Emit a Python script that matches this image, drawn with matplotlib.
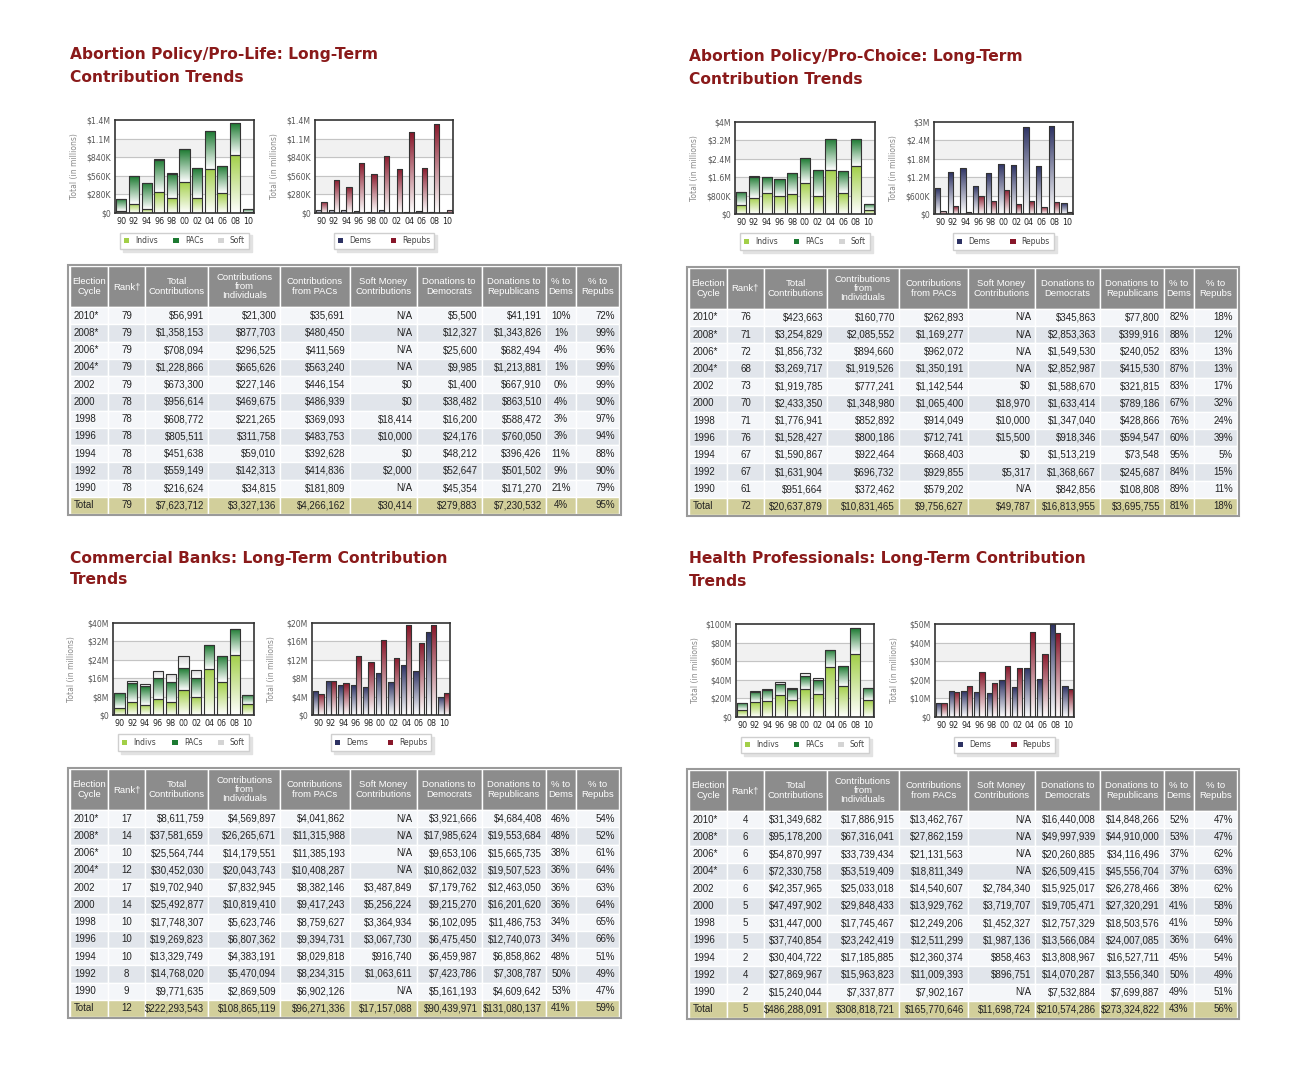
import numpy as np
import matplotlib
matplotlib.use("Agg")
import matplotlib.pyplot as plt
from matplotlib.colors import LinearSegmentedColormap
from matplotlib.patches import Patch, Rectangle

W, H = 1299, 1080

# x labels for the bar charts (oldest cycle first)
years = ["90", "92", "94", "96", "98", "00", "02", "04", "06", "08", "10"]
# table rows (newest cycle first)
cycles = ["2010*", "2008*", "2006*", "2004*", "2002", "2000", "1998", "1996", "1994", "1992", "1990"]
columns = ["Election\nCycle", "Rank\u2020", "Total\nContributions", "Contributions\nfrom\nIndividuals",
           "Contributions\nfrom PACs", "Soft Money\nContributions", "Donations to\nDemocrats",
           "Donations to\nRepublicans", "% to\nDems", "% to\nRepubs"]

# Abortion Policy/Pro-Life
pl_rank = [79, 79, 79, 79, 79, 78, 78, 78, 78, 78, 78]
pl_total = [56991, 1358153, 708094, 1228866, 673300, 956614, 608772, 805511, 451638, 559149, 216624]
pl_indivs = [21300, 877703, 296525, 665626, 227146, 469675, 221265, 311758, 59010, 142313, 34815]
pl_pacs = [35691, 480450, 411569, 563240, 446154, 486939, 369093, 483753, 392628, 414836, 181809]
pl_soft = [None, None, None, None, 0, 0, 18414, 10000, 0, 2000, None]
pl_dems = [5500, 12327, 25600, 9985, 1400, 38482, 16200, 24176, 48212, 52647, 45354]
pl_repubs = [41191, 1343826, 682494, 1213881, 667910, 863510, 588472, 760050, 396426, 501502, 171270]
pl_pct_dems = [10, 1, 4, 1, 0, 4, 3, 3, 11, 9, 21]
pl_pct_repubs = [72, 99, 96, 99, 99, 90, 97, 94, 88, 90, 79]
pl_sum = [79, 7623712, 3327136, 4266162, 30414, 279883, 7230532, 4, 95]

# Abortion Policy/Pro-Choice
pc_rank = [76, 71, 72, 68, 73, 70, 71, 76, 67, 67, 61]
pc_total = [423663, 3254829, 1856732, 3269717, 1919785, 2433350, 1776941, 1528427, 1590867, 1631904, 951664]
pc_indivs = [160770, 2085552, 894660, 1919526, 777241, 1348980, 852892, 800186, 922464, 696732, 372462]
pc_pacs = [262893, 1169277, 962072, 1350191, 1142544, 1065400, 914049, 712741, 668403, 929855, 579202]
pc_soft = [None, None, None, None, 0, 18970, 10000, 15500, 0, 5317, None]
pc_dems = [345863, 2853363, 1549530, 2852987, 1588670, 1633414, 1347040, 918346, 1513219, 1368667, 842856]
pc_repubs = [77800, 399916, 240052, 415530, 321815, 789186, 428866, 594547, 73548, 245687, 108808]
pc_pct_dems = [82, 88, 83, 87, 83, 67, 76, 60, 95, 84, 89]
pc_pct_repubs = [18, 12, 13, 13, 17, 32, 24, 39, 5, 15, 11]
pc_sum = [72, 20637879, 10831465, 9756627, 49787, 16813955, 3695755, 81, 18]

# Commercial Banks
cb_rank = [17, 14, 10, 12, 17, 14, 10, 10, 10, 8, 9]
cb_total = [8611759, 37581659, 25564744, 30452030, 19702940, 25492877, 17748307, 19269823, 13329749, 14768020, 9771635]
cb_indivs = [4569897, 26265671, 14179551, 20043743, 7832945, 10819410, 5623746, 6807362, 4383191, 5470094, 2869509]
cb_pacs = [4041862, 11315988, 11385193, 10408287, 8382146, 9417243, 8759627, 9394731, 8029818, 8234315, 6902126]
cb_soft = [None, None, None, None, 3487849, 5256224, 3364934, 3067730, 916740, 1063611, None]
cb_dems = [3921666, 17985624, 9653106, 10862032, 7179762, 9215270, 6102095, 6475450, 6459987, 7423786, 5161193]
cb_repubs = [4684408, 19553684, 15665735, 19507523, 12463050, 16201620, 11486753, 12740073, 6858862, 7308787, 4609642]
cb_pct_dems = [46, 48, 38, 36, 36, 36, 34, 34, 48, 50, 53]
cb_pct_repubs = [54, 52, 61, 64, 63, 64, 65, 66, 51, 49, 47]
cb_sum = [12, 222293543, 108865119, 96271336, 17157088, 90439971, 131080137, 41, 59]

# Health Professionals
hp_rank = [4, 6, 6, 6, 6, 5, 5, 5, 2, 4, 2]
hp_total = [31349682, 95178200, 54870997, 72330758, 42357965, 47497902, 31447000, 37740854, 30404722, 27869967, 15240044]
hp_indivs = [17886915, 67316041, 33739434, 53519409, 25033018, 29848433, 17745467, 23242419, 17185885, 15963823, 7337877]
hp_pacs = [13462767, 27862159, 21131563, 18811349, 14540607, 13929762, 12249206, 12511299, 12360374, 11009393, 7902167]
hp_soft = [None, None, None, None, 2784340, 3719707, 1452327, 1987136, 858463, 896751, None]
hp_dems = [16440008, 49997939, 20260885, 26509415, 15925017, 19705471, 12757329, 13566084, 13808967, 14070287, 7532884]
hp_repubs = [14848266, 44910000, 34116496, 45556704, 26278466, 27320291, 18503576, 24007085, 16527711, 13556340, 7699887]
hp_pct_dems = [52, 53, 37, 37, 38, 41, 41, 36, 45, 50, 49]
hp_pct_repubs = [47, 47, 62, 63, 62, 58, 59, 64, 54, 49, 51]
hp_sum = [5, 486288091, 308818721, 165770646, 11698724, 210574286, 273324822, 43, 56]

# y axis ticks of each chart
pl_ticks1 = [0, 280e3, 560e3, 840e3, 1.12e6, 1.4e6]
pl_labels1 = ["$0", "$280K", "$560K", "$840K", "$1.1M", "$1.4M"]
pl_ticks2, pl_labels2 = pl_ticks1, pl_labels1
pc_ticks1 = [0, 0.8e6, 1.6e6, 2.4e6, 3.2e6, 4e6]
pc_labels1 = ["$0", "$800K", "$1.6M", "$2.4M", "$3.2M", "$4M"]
pc_ticks2 = [0, 0.6e6, 1.2e6, 1.8e6, 2.4e6, 3e6]
pc_labels2 = ["$0", "$600K", "$1.2M", "$1.8M", "$2.4M", "$3M"]
cb_ticks1 = [0, 8e6, 16e6, 24e6, 32e6, 40e6]
cb_labels1 = ["$0", "$8M", "$16M", "$24M", "$32M", "$40M"]
cb_ticks2 = [0, 4e6, 8e6, 12e6, 16e6, 20e6]
cb_labels2 = ["$0", "$4M", "$8M", "$12M", "$16M", "$20M"]
hp_ticks1 = [0, 20e6, 40e6, 60e6, 80e6, 100e6]
hp_labels1 = ["$0", "$20M", "$40M", "$60M", "$80M", "$100M"]
hp_ticks2 = [0, 10e6, 20e6, 30e6, 40e6, 50e6]
hp_labels2 = ["$0", "$10M", "$20M", "$30M", "$40M", "$50M"]

# colours
c_indivs, c_pacs, c_soft = "#a2cf48", "#1d7a32", "#d4d4d4"
c_dems, c_repubs = "#2d3263", "#88172a"
title_color = "#8a1a1a"

col_px = [38, 37, 63, 72, 69, 67, 65, 64, 30, 43]
col_align = ["left", "center", "right", "right", "right", "right", "right", "right", "center", "right"]


def px_axes(fig, left, top, right, bottom):
    # axes placed in pixel coordinates of the figure
    return fig.add_axes([left / W, 1 - bottom / H, (right - left) / W, (bottom - top) / H])


def gradient_fill(ax, bars, color):
    cmap = LinearSegmentedColormap.from_list("g", ["#ffffff", color])
    grad = np.linspace(0, 1, 64).reshape(-1, 1)
    for bar in bars:
        x0, y0 = bar.get_xy()
        w, h = bar.get_width(), bar.get_height()
        if h <= 0:
            continue
        im = ax.imshow(grad, cmap=cmap, extent=[x0, x0 + w, y0, y0 + h], aspect="auto",
                       origin="lower", zorder=2, interpolation="bilinear")
        im.set_clip_path(bar)


def style_chart(ax, ticks, labels):
    ax.set_xlim(-0.5, 10.5)
    ax.set_ylim(0, ticks[-1])
    for i in range(len(ticks) - 1):
        if i % 2 == 1:
            ax.axhspan(ticks[i], ticks[i + 1], color="#f1f1f1", zorder=0)
    for t in ticks[1:-1]:
        ax.axhline(t, color="#c4c4c4", lw=0.8, zorder=1)
    ax.set_yticks(ticks)
    ax.set_yticklabels(labels, fontsize=5.6, color="#555555")
    ax.set_xticks(range(len(years)))
    ax.set_xticklabels(years, fontsize=5.8, color="#222222")
    ax.tick_params(length=0, pad=3)
    for s in ax.spines.values():
        s.set_color("#333333")
        s.set_linewidth(1.2)
    ax.set_ylabel("Total (in millions)", fontsize=5.5, color="#8a8a8a")
    ax.yaxis.set_label_coords(-0.26, 0.5)


legend_style = dict(fontsize=5.5, frameon=True, fancybox=False, edgecolor="#cfcfcf", framealpha=1,
                    shadow={"color": "#e2e2e2", "alpha": 1}, handlelength=0.7, handleheight=0.7,
                    handletextpad=0.8, borderpad=0.5, labelcolor="#444444")


def stack_chart(ax, indivs, pacs, soft, ticks, labels):
    x = np.arange(len(years))
    ind = np.array(indivs[::-1], dtype=float)
    pac = np.array(pacs[::-1], dtype=float)
    sft = np.array([0 if v is None else v for v in soft[::-1]], dtype=float)
    kw = dict(width=0.8, facecolor="none", edgecolor="#333333", linewidth=0.8, zorder=3)
    b1 = ax.bar(x, ind, **kw)
    b2 = ax.bar(x, pac, bottom=ind, **kw)
    b3 = ax.bar(x, sft, bottom=ind + pac, **kw)
    gradient_fill(ax, b1, c_indivs)
    gradient_fill(ax, b2, c_pacs)
    gradient_fill(ax, b3, c_soft)
    style_chart(ax, ticks, labels)
    handles = [Patch(facecolor=c) for c in (c_indivs, c_pacs, c_soft)]
    ax.legend(handles, ["Indivs", "PACs", "Soft"], ncol=3, loc="upper left",
              bbox_to_anchor=(0.01, -0.17, 0.98, 0), mode="expand", **legend_style)


def party_chart(ax, dems, repubs, ticks, labels):
    x = np.arange(len(years))
    kw = dict(width=0.42, facecolor="none", edgecolor="#333333", linewidth=0.8, zorder=3)
    b1 = ax.bar(x - 0.21, dems[::-1], **kw)
    b2 = ax.bar(x + 0.21, repubs[::-1], **kw)
    gradient_fill(ax, b1, c_dems)
    gradient_fill(ax, b2, c_repubs)
    style_chart(ax, ticks, labels)
    handles = [Patch(facecolor=c) for c in (c_dems, c_repubs)]
    ax.legend(handles, ["Dems", "Repubs"], ncol=2, loc="upper center",
              bbox_to_anchor=(0.5, -0.17), columnspacing=2.6, **legend_style)


def money(v):
    return "N/A" if v is None else f"${v:,}"


def draw_table(ax, rank, total, indivs, pacs, soft, dems, repubs, pct_d, pct_r, sums):
    ax.axis("off")
    body = []
    for i in range(len(cycles)):
        body.append([cycles[i], str(rank[i]), money(total[i]), money(indivs[i]), money(pacs[i]),
                     money(soft[i]), money(dems[i]), money(repubs[i]), f"{pct_d[i]}%", f"{pct_r[i]}%"])
    body.append(["Total", str(sums[0])] + [money(v) for v in sums[1:7]] + [f"{sums[7]}%", f"{sums[8]}%"])
    tot_w = sum(col_px)
    tbl = ax.table(cellText=body, colLabels=columns, colWidths=[w / tot_w for w in col_px],
                   bbox=[0, 0, 1, 1], cellLoc="right", colLoc="center")
    tbl.auto_set_font_size(False)
    tbl.set_fontsize(7)
    n = len(body)
    for (r, c), cell in tbl.get_celld().items():
        cell.set_edgecolor("white")
        cell.set_linewidth(1.0)
        cell.PAD = 4.0 / col_px[c]
        txt = cell.get_text()
        txt.set_fontfamily("Liberation Sans")
        if r == 0:
            cell.set_height(cell.get_height() * 2.38)
            cell.set_facecolor("#8c8c8c")
            txt.set_color("white")
            txt.set_fontsize(6.8)
            txt.set_linespacing(1.05)
        else:
            cell._loc = col_align[c]
            txt.set_horizontalalignment(col_align[c])
            txt.set_color("#222222")
            if r == n:
                cell.set_facecolor("#d2cf9b")
            elif r % 2 == 1:
                cell.set_facecolor("#f4f6f9")
            else:
                cell.set_facecolor("#e1e5eb")
    ax.add_patch(Rectangle((-0.003, -0.006), 1.006, 1.012, transform=ax.transAxes, fill=False,
                           edgecolor="#9a9a9a", linewidth=1.5, clip_on=False))


fig = plt.figure(figsize=(W / 100, H / 100), dpi=100)
fig.patch.set_facecolor("white")

panels = [
    dict(title=("Abortion Policy/Pro-Life: Long-Term", "Contribution Trends"), tx=70, ty=(55, 77),
         c1=(115, 120, 254, 213), c2=(315, 120, 453, 213), tb=(70, 266, 619, 514),
         data=(pl_rank, pl_total, pl_indivs, pl_pacs, pl_soft, pl_dems, pl_repubs, pl_pct_dems, pl_pct_repubs, pl_sum),
         ticks=(pl_ticks1, pl_labels1, pl_ticks2, pl_labels2)),
    dict(title=("Abortion Policy/Pro-Choice: Long-Term", "Contribution Trends"), tx=689, ty=(57, 79),
         c1=(735, 122, 875, 214), c2=(934, 122, 1073, 214), tb=(689, 268, 1237, 515),
         data=(pc_rank, pc_total, pc_indivs, pc_pacs, pc_soft, pc_dems, pc_repubs, pc_pct_dems, pc_pct_repubs, pc_sum),
         ticks=(pc_ticks1, pc_labels1, pc_ticks2, pc_labels2)),
    dict(title=("Commercial Banks: Long-Term Contribution", "Trends"), tx=70, ty=(558, 580),
         c1=(113, 623, 254, 715), c2=(312, 623, 450, 715), tb=(70, 769, 619, 1017),
         data=(cb_rank, cb_total, cb_indivs, cb_pacs, cb_soft, cb_dems, cb_repubs, cb_pct_dems, cb_pct_repubs, cb_sum),
         ticks=(cb_ticks1, cb_labels1, cb_ticks2, cb_labels2)),
    dict(title=("Health Professionals: Long-Term Contribution", "Trends"), tx=689, ty=(559, 582),
         c1=(736, 624, 874, 717), c2=(935, 624, 1074, 717), tb=(689, 770, 1237, 1018),
         data=(hp_rank, hp_total, hp_indivs, hp_pacs, hp_soft, hp_dems, hp_repubs, hp_pct_dems, hp_pct_repubs, hp_sum),
         ticks=(hp_ticks1, hp_labels1, hp_ticks2, hp_labels2)),
]

for p in panels:
    for line, y in zip(p["title"], p["ty"]):
        fig.text(p["tx"] / W, 1 - y / H, line, fontsize=11.2, fontweight="bold",
                 color=title_color, va="center", ha="left")
    rank, total, indivs, pacs, soft, dems, repubs, pct_d, pct_r, sums = p["data"]
    t1, l1, t2, l2 = p["ticks"]
    stack_chart(px_axes(fig, *p["c1"]), indivs, pacs, soft, t1, l1)
    party_chart(px_axes(fig, *p["c2"]), dems, repubs, t2, l2)
    draw_table(px_axes(fig, *p["tb"]), rank, total, indivs, pacs, soft, dems, repubs, pct_d, pct_r, sums)

fig.savefig("out.png", dpi=100)
